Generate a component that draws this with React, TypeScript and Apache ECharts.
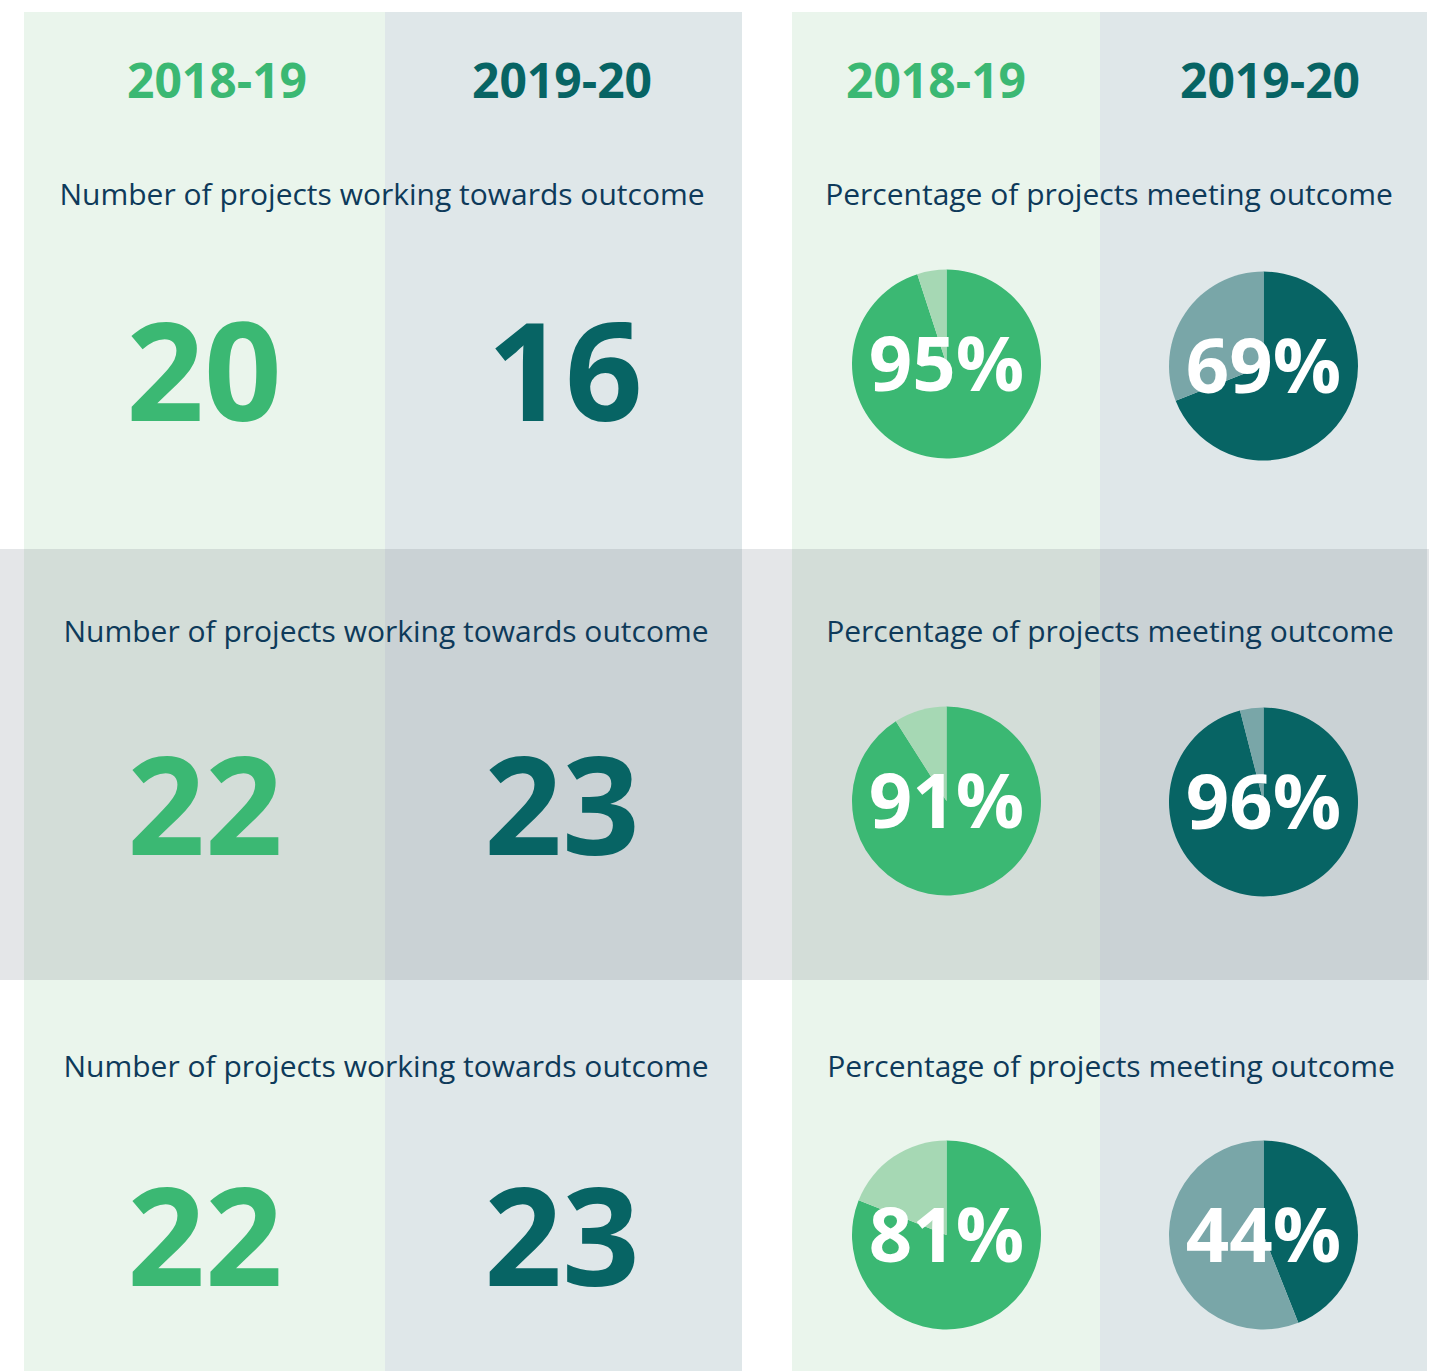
import React, { useEffect, useRef } from "react";
import * as echarts from "echarts";

const years = ["2018-19", "2019-20"];
const leftSubtitle = "Number of projects working towards outcome";
const rightSubtitle = "Percentage of projects meeting outcome";
const projectCounts1819 = [20, 22, 22];
const projectCounts1920 = [16, 23, 23];
const meetingPct1819 = [95, 91, 81];
const meetingPct1920 = [69, 96, 44];

const GREEN = "#3BB873";
const GREEN_LIGHT = "#A6D8B4";
const TEAL = "#076464";
const TEAL_LIGHT = "#79A6A8";
const NAVY = "#0E3A5A";
const FONT = "'Open Sans', sans-serif";

export default function App() {
  const ref = useRef<HTMLDivElement>(null);
  useEffect(() => {
    if (!ref.current) return;
    const chart = echarts.init(ref.current, null, { renderer: "svg" });

    const W = 1429;
    const H = 1371;
    const bandTop = 549;
    const bandBot = 980;
    const cols = [
      { x0: 24, x1: 385, kind: "g" },
      { x0: 385, x1: 742, kind: "b" },
      { x0: 792, x1: 1100, kind: "g" },
      { x0: 1100, x1: 1427, kind: "b" },
    ];
    const bg: any[] = [];
    bg.push({ type: "rect", z: -100, shape: { x: 0, y: bandTop, width: W, height: bandBot - bandTop }, style: { fill: "#E4E6E8" }, silent: true });
    cols.forEach((c) => {
      const light = c.kind === "g" ? "#EAF5EC" : "#DFE7E9";
      const dark = c.kind === "g" ? "#D3DDD8" : "#CAD2D5";
      bg.push({ type: "rect", z: -90, shape: { x: c.x0, y: 12, width: c.x1 - c.x0, height: bandTop - 12 }, style: { fill: light }, silent: true });
      bg.push({ type: "rect", z: -90, shape: { x: c.x0, y: bandTop, width: c.x1 - c.x0, height: bandBot - bandTop }, style: { fill: dark }, silent: true });
      bg.push({ type: "rect", z: -90, shape: { x: c.x0, y: bandBot, width: c.x1 - c.x0, height: H - bandBot }, style: { fill: light }, silent: true });
    });

    const texts: any[] = [];
    const yearX = [[217, 562], [936, 1270]];
    yearX.forEach((xs) => {
      xs.forEach((x, i) => {
        texts.push({
          type: "text", z: 10, x, y: 79,
          style: { text: years[i], fill: i === 0 ? GREEN : TEAL, font: `bold 48px ${FONT}`, textAlign: "center", textVerticalAlign: "middle" },
        });
      });
    });

    const subY = [193, 630, 1065];
    const leftSubX = [382, 386, 386];
    const rightSubX = [1109, 1110, 1111];
    const numY = [368, 802, 1233];
    const numX1 = [204, 205, 205];
    const numX2 = [565, 562, 562];
    subY.forEach((y, r) => {
      texts.push({ type: "text", z: 10, x: leftSubX[r], y, style: { text: leftSubtitle, fill: NAVY, font: `30px ${FONT}`, textAlign: "center", textVerticalAlign: "middle" } });
      texts.push({ type: "text", z: 10, x: rightSubX[r], y, style: { text: rightSubtitle, fill: NAVY, font: `30px ${FONT}`, textAlign: "center", textVerticalAlign: "middle" } });
      texts.push({ type: "text", z: 10, x: numX1[r], y: numY[r], style: { text: String(projectCounts1819[r]), fill: GREEN, font: `bold 136px ${FONT}`, textAlign: "center", textVerticalAlign: "middle" } });
      texts.push({ type: "text", z: 10, x: numX2[r], y: numY[r], style: { text: String(projectCounts1920[r]), fill: TEAL, font: `bold 136px ${FONT}`, textAlign: "center", textVerticalAlign: "middle" } });
    });

    const pieCY = [364, 801, 1235];
    const pieX = [946.5, 1263.5];
    const makePie = (pct: number, cx: number, cy: number, main: string, light: string) => ({
      type: "pie",
      silent: true,
      center: [cx, cy],
      radius: [0, 94.5],
      startAngle: 90,
      clockwise: true,
      label: { show: false },
      labelLine: { show: false },
      emphasis: { disabled: true },
      data: [
        {
          value: pct,
          itemStyle: { color: main },
          label: { show: true, position: "center", formatter: "{c}%", color: "#FFFFFF", fontSize: 76, fontWeight: "bold", fontFamily: FONT, offset: [0, -3] },
        },
        { value: 100 - pct, itemStyle: { color: light }, label: { show: false } },
      ],
    });
    const series: any[] = [];
    pieCY.forEach((cy, r) => {
      series.push(makePie(meetingPct1819[r], pieX[0], cy, GREEN, GREEN_LIGHT));
      series.push(makePie(meetingPct1920[r], pieX[1], cy + (r === 0 ? 2 : r === 1 ? 1 : 0), TEAL, TEAL_LIGHT));
    });

    chart.setOption({
      animation: false,
      backgroundColor: "#FFFFFF",
      graphic: { elements: [...bg, ...texts] },
      series,
    });
    return () => chart.dispose();
  }, []);
  return <div ref={ref} style={{ position: "absolute", left: 0, top: 0, width: 1429, height: 1371 }} />;
}
